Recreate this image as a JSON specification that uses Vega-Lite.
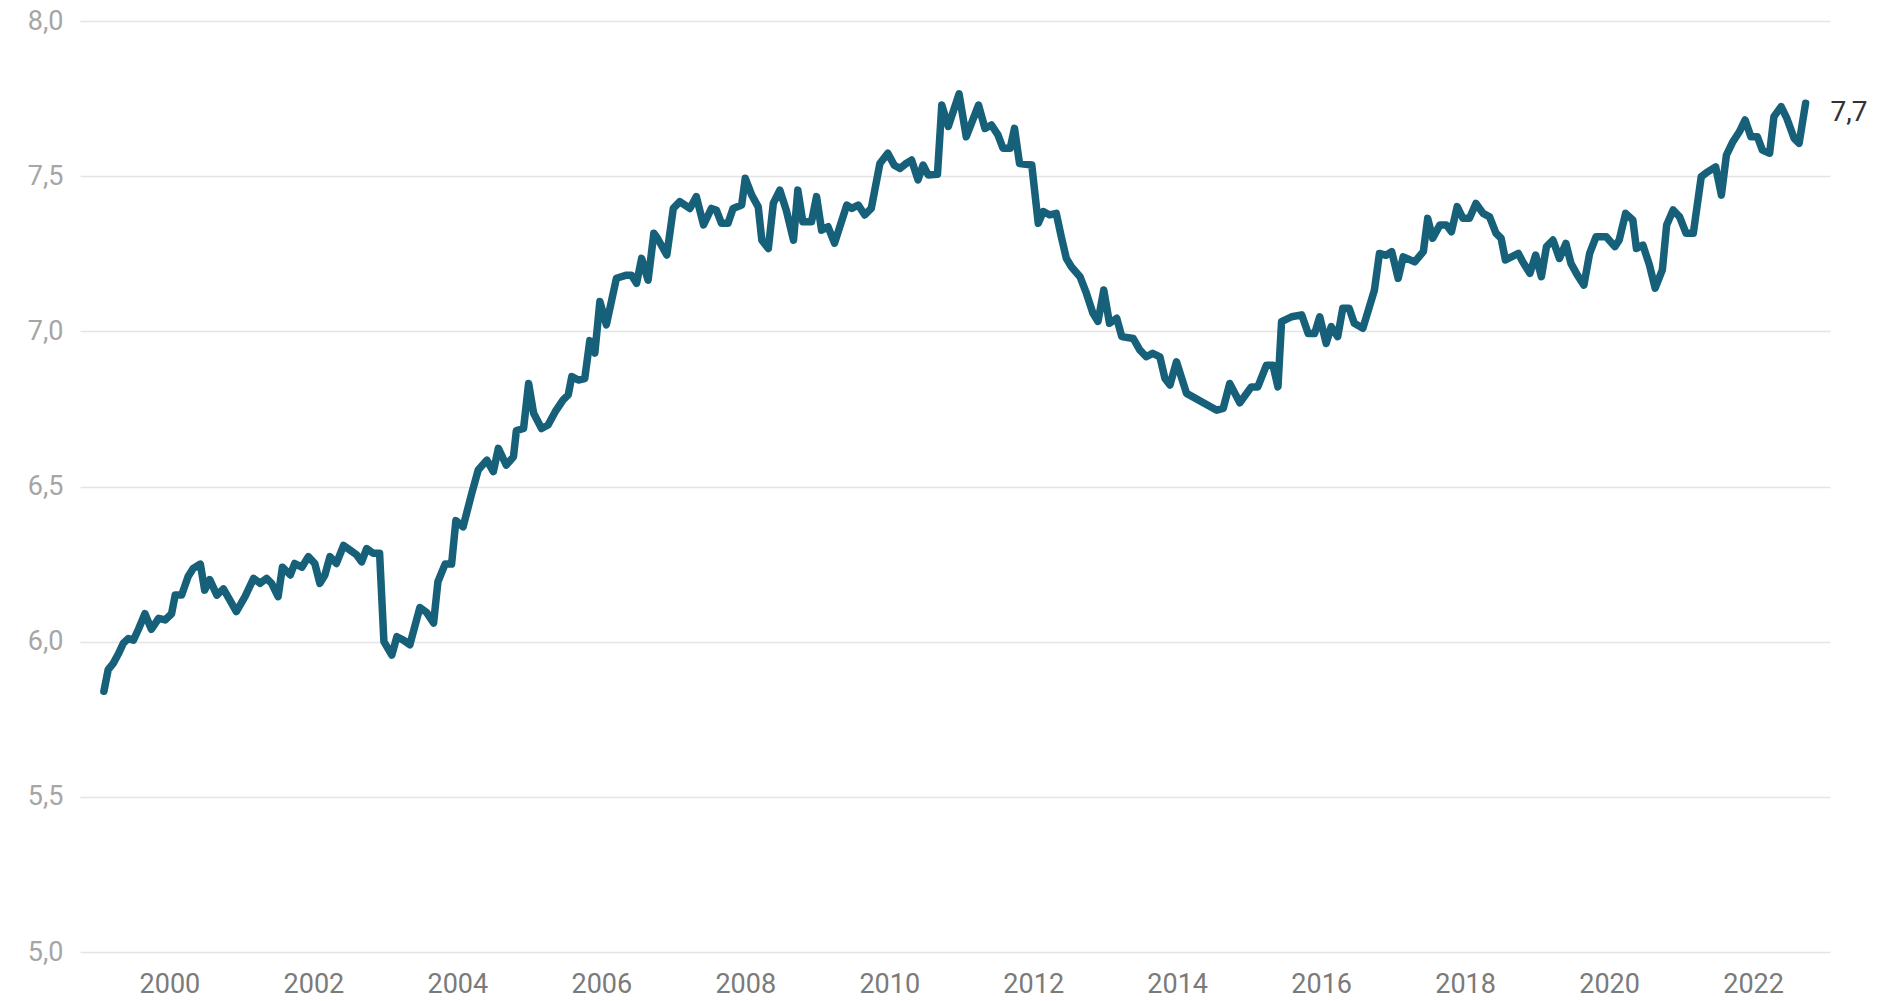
{
  "$schema": "https://vega.github.io/schema/vega-lite/v6.json",
  "width": 1750,
  "height": 931,
  "autosize": "none",
  "padding": {"left": 80, "top": 21, "right": 54, "bottom": 49},
  "background": "white",
  "config": {
    "view": {"stroke": null},
    "font": "Roboto",
    "axis": {"labelFont": "Roboto", "labelFontSize": 27}
  },
  "data": {"values": [
    {"t": 1999.09, "v": 5.84}, {"t": 1999.15, "v": 5.91}, {"t": 1999.22, "v": 5.93}, {"t": 1999.29, "v": 5.96},
    {"t": 1999.36, "v": 5.995}, {"t": 1999.43, "v": 6.01}, {"t": 1999.50, "v": 6.005}, {"t": 1999.57, "v": 6.04},
    {"t": 1999.66, "v": 6.09}, {"t": 1999.75, "v": 6.04}, {"t": 1999.85, "v": 6.075}, {"t": 1999.94, "v": 6.07},
    {"t": 2000.03, "v": 6.09}, {"t": 2000.08, "v": 6.15}, {"t": 2000.17, "v": 6.15}, {"t": 2000.26, "v": 6.21},
    {"t": 2000.33, "v": 6.236}, {"t": 2000.43, "v": 6.25}, {"t": 2000.49, "v": 6.166}, {"t": 2000.56, "v": 6.2},
    {"t": 2000.66, "v": 6.15}, {"t": 2000.75, "v": 6.17}, {"t": 2000.84, "v": 6.134}, {"t": 2000.93, "v": 6.097},
    {"t": 2001.05, "v": 6.145}, {"t": 2001.17, "v": 6.204}, {"t": 2001.26, "v": 6.188}, {"t": 2001.35, "v": 6.204},
    {"t": 2001.42, "v": 6.188}, {"t": 2001.51, "v": 6.145}, {"t": 2001.57, "v": 6.24}, {"t": 2001.68, "v": 6.215},
    {"t": 2001.74, "v": 6.252}, {"t": 2001.84, "v": 6.24}, {"t": 2001.93, "v": 6.274}, {"t": 2002.02, "v": 6.252},
    {"t": 2002.09, "v": 6.188}, {"t": 2002.16, "v": 6.215}, {"t": 2002.23, "v": 6.274}, {"t": 2002.32, "v": 6.252},
    {"t": 2002.42, "v": 6.31}, {"t": 2002.51, "v": 6.295}, {"t": 2002.60, "v": 6.28}, {"t": 2002.67, "v": 6.257},
    {"t": 2002.74, "v": 6.30}, {"t": 2002.83, "v": 6.285}, {"t": 2002.92, "v": 6.285}, {"t": 2002.98, "v": 6.0},
    {"t": 2003.09, "v": 5.957}, {"t": 2003.16, "v": 6.016}, {"t": 2003.25, "v": 6.005}, {"t": 2003.34, "v": 5.99},
    {"t": 2003.48, "v": 6.11}, {"t": 2003.57, "v": 6.095}, {"t": 2003.67, "v": 6.06}, {"t": 2003.73, "v": 6.193},
    {"t": 2003.83, "v": 6.25}, {"t": 2003.92, "v": 6.25}, {"t": 2003.98, "v": 6.39}, {"t": 2004.08, "v": 6.37},
    {"t": 2004.20, "v": 6.478}, {"t": 2004.29, "v": 6.553}, {"t": 2004.41, "v": 6.585}, {"t": 2004.50, "v": 6.548},
    {"t": 2004.57, "v": 6.623}, {"t": 2004.68, "v": 6.569}, {"t": 2004.78, "v": 6.596}, {"t": 2004.82, "v": 6.68},
    {"t": 2004.92, "v": 6.687}, {"t": 2004.99, "v": 6.832}, {"t": 2005.06, "v": 6.736}, {"t": 2005.17, "v": 6.687},
    {"t": 2005.26, "v": 6.698}, {"t": 2005.36, "v": 6.741}, {"t": 2005.47, "v": 6.779}, {"t": 2005.54, "v": 6.795},
    {"t": 2005.59, "v": 6.854}, {"t": 2005.68, "v": 6.843}, {"t": 2005.77, "v": 6.848}, {"t": 2005.84, "v": 6.97},
    {"t": 2005.91, "v": 6.93}, {"t": 2005.98, "v": 7.096}, {"t": 2006.07, "v": 7.021}, {"t": 2006.21, "v": 7.171},
    {"t": 2006.35, "v": 7.181}, {"t": 2006.42, "v": 7.181}, {"t": 2006.49, "v": 7.155}, {"t": 2006.56, "v": 7.235},
    {"t": 2006.65, "v": 7.165}, {"t": 2006.73, "v": 7.316}, {"t": 2006.78, "v": 7.30}, {"t": 2006.91, "v": 7.246},
    {"t": 2007.00, "v": 7.396}, {"t": 2007.09, "v": 7.418}, {"t": 2007.23, "v": 7.396}, {"t": 2007.32, "v": 7.434},
    {"t": 2007.42, "v": 7.343}, {"t": 2007.53, "v": 7.396}, {"t": 2007.60, "v": 7.39}, {"t": 2007.67, "v": 7.348},
    {"t": 2007.76, "v": 7.348}, {"t": 2007.83, "v": 7.396}, {"t": 2007.95, "v": 7.407}, {"t": 2008.00, "v": 7.493},
    {"t": 2008.09, "v": 7.439}, {"t": 2008.18, "v": 7.401}, {"t": 2008.23, "v": 7.294}, {"t": 2008.32, "v": 7.267},
    {"t": 2008.39, "v": 7.413}, {"t": 2008.48, "v": 7.455}, {"t": 2008.57, "v": 7.39}, {"t": 2008.67, "v": 7.294},
    {"t": 2008.73, "v": 7.455}, {"t": 2008.80, "v": 7.353}, {"t": 2008.92, "v": 7.353}, {"t": 2008.99, "v": 7.434},
    {"t": 2009.06, "v": 7.326}, {"t": 2009.15, "v": 7.337}, {"t": 2009.24, "v": 7.284}, {"t": 2009.41, "v": 7.407},
    {"t": 2009.48, "v": 7.396}, {"t": 2009.57, "v": 7.407}, {"t": 2009.66, "v": 7.375}, {"t": 2009.75, "v": 7.396},
    {"t": 2009.87, "v": 7.541}, {"t": 2009.98, "v": 7.574}, {"t": 2010.07, "v": 7.535}, {"t": 2010.15, "v": 7.525},
    {"t": 2010.23, "v": 7.54}, {"t": 2010.31, "v": 7.552}, {"t": 2010.40, "v": 7.488}, {"t": 2010.47, "v": 7.536},
    {"t": 2010.54, "v": 7.504}, {"t": 2010.67, "v": 7.506}, {"t": 2010.73, "v": 7.729}, {"t": 2010.82, "v": 7.66},
    {"t": 2010.97, "v": 7.765}, {"t": 2011.07, "v": 7.627}, {"t": 2011.24, "v": 7.729}, {"t": 2011.33, "v": 7.654},
    {"t": 2011.42, "v": 7.665}, {"t": 2011.51, "v": 7.633}, {"t": 2011.58, "v": 7.59}, {"t": 2011.68, "v": 7.59},
    {"t": 2011.74, "v": 7.654}, {"t": 2011.81, "v": 7.541}, {"t": 2011.98, "v": 7.536}, {"t": 2012.07, "v": 7.348},
    {"t": 2012.14, "v": 7.386}, {"t": 2012.23, "v": 7.375}, {"t": 2012.32, "v": 7.38}, {"t": 2012.39, "v": 7.305},
    {"t": 2012.46, "v": 7.235}, {"t": 2012.53, "v": 7.208}, {"t": 2012.65, "v": 7.176}, {"t": 2012.74, "v": 7.122},
    {"t": 2012.83, "v": 7.058}, {"t": 2012.90, "v": 7.032}, {"t": 2012.98, "v": 7.133}, {"t": 2013.06, "v": 7.026},
    {"t": 2013.16, "v": 7.042}, {"t": 2013.23, "v": 6.983}, {"t": 2013.39, "v": 6.977}, {"t": 2013.48, "v": 6.94},
    {"t": 2013.57, "v": 6.918}, {"t": 2013.66, "v": 6.929}, {"t": 2013.76, "v": 6.918}, {"t": 2013.83, "v": 6.848},
    {"t": 2013.90, "v": 6.827}, {"t": 2013.99, "v": 6.902}, {"t": 2014.13, "v": 6.80}, {"t": 2014.55, "v": 6.746},
    {"t": 2014.64, "v": 6.752}, {"t": 2014.73, "v": 6.832}, {"t": 2014.87, "v": 6.77}, {"t": 2015.03, "v": 6.821},
    {"t": 2015.12, "v": 6.821}, {"t": 2015.24, "v": 6.891}, {"t": 2015.33, "v": 6.891}, {"t": 2015.40, "v": 6.821},
    {"t": 2015.45, "v": 7.031}, {"t": 2015.59, "v": 7.047}, {"t": 2015.73, "v": 7.053}, {"t": 2015.82, "v": 6.993},
    {"t": 2015.91, "v": 6.993}, {"t": 2015.98, "v": 7.047}, {"t": 2016.07, "v": 6.961}, {"t": 2016.14, "v": 7.015},
    {"t": 2016.23, "v": 6.983}, {"t": 2016.30, "v": 7.074}, {"t": 2016.39, "v": 7.074}, {"t": 2016.46, "v": 7.026},
    {"t": 2016.58, "v": 7.01}, {"t": 2016.74, "v": 7.133}, {"t": 2016.81, "v": 7.251}, {"t": 2016.90, "v": 7.245},
    {"t": 2016.98, "v": 7.257}, {"t": 2017.07, "v": 7.171}, {"t": 2017.14, "v": 7.24}, {"t": 2017.30, "v": 7.224},
    {"t": 2017.42, "v": 7.257}, {"t": 2017.48, "v": 7.364}, {"t": 2017.55, "v": 7.30}, {"t": 2017.65, "v": 7.343},
    {"t": 2017.74, "v": 7.343}, {"t": 2017.81, "v": 7.321}, {"t": 2017.89, "v": 7.402}, {"t": 2017.97, "v": 7.364},
    {"t": 2018.06, "v": 7.364}, {"t": 2018.15, "v": 7.412}, {"t": 2018.25, "v": 7.38}, {"t": 2018.34, "v": 7.369},
    {"t": 2018.43, "v": 7.316}, {"t": 2018.50, "v": 7.30}, {"t": 2018.56, "v": 7.23}, {"t": 2018.74, "v": 7.251},
    {"t": 2018.80, "v": 7.224}, {"t": 2018.90, "v": 7.187}, {"t": 2018.98, "v": 7.246}, {"t": 2019.06, "v": 7.176},
    {"t": 2019.13, "v": 7.273}, {"t": 2019.22, "v": 7.294}, {"t": 2019.31, "v": 7.235}, {"t": 2019.40, "v": 7.283},
    {"t": 2019.47, "v": 7.219}, {"t": 2019.56, "v": 7.181}, {"t": 2019.65, "v": 7.149}, {"t": 2019.73, "v": 7.251},
    {"t": 2019.82, "v": 7.305}, {"t": 2019.96, "v": 7.305}, {"t": 2020.08, "v": 7.273}, {"t": 2020.14, "v": 7.294},
    {"t": 2020.23, "v": 7.38}, {"t": 2020.33, "v": 7.359}, {"t": 2020.38, "v": 7.267}, {"t": 2020.47, "v": 7.278},
    {"t": 2020.56, "v": 7.214}, {"t": 2020.64, "v": 7.139}, {"t": 2020.74, "v": 7.198}, {"t": 2020.80, "v": 7.343},
    {"t": 2020.89, "v": 7.391}, {"t": 2020.98, "v": 7.369}, {"t": 2021.07, "v": 7.316}, {"t": 2021.17, "v": 7.316},
    {"t": 2021.28, "v": 7.498}, {"t": 2021.37, "v": 7.514}, {"t": 2021.48, "v": 7.53}, {"t": 2021.56, "v": 7.439},
    {"t": 2021.63, "v": 7.568}, {"t": 2021.72, "v": 7.611}, {"t": 2021.81, "v": 7.643}, {"t": 2021.89, "v": 7.681},
    {"t": 2021.97, "v": 7.627}, {"t": 2022.06, "v": 7.627}, {"t": 2022.13, "v": 7.584}, {"t": 2022.23, "v": 7.574},
    {"t": 2022.29, "v": 7.692}, {"t": 2022.39, "v": 7.724}, {"t": 2022.47, "v": 7.686}, {"t": 2022.57, "v": 7.622},
    {"t": 2022.64, "v": 7.606}, {"t": 2022.73, "v": 7.735, "label": "7,7"}
  ]},
  "encoding": {
    "x": {
      "field": "t", "type": "quantitative",
      "scale": {"domain": [1998.758, 2023.069], "nice": false, "zero": false},
      "axis": {
        "title": null, "grid": false, "domain": false, "ticks": false,
        "values": [2000, 2002, 2004, 2006, 2008, 2010, 2012, 2014, 2016, 2018, 2020, 2022],
        "format": "d", "labelColor": "#7a7a7a", "labelPadding": 19, "labelFontSize": 27
      }
    },
    "y": {
      "field": "v", "type": "quantitative",
      "scale": {"domain": [5, 8], "nice": false, "zero": false},
      "axis": {
        "title": null, "grid": true, "gridColor": "#e4e4e4", "gridWidth": 1.5,
        "domain": false, "ticks": false,
        "values": [5, 5.5, 6, 6.5, 7, 7.5, 8],
        "labelExpr": "replace(format(datum.value, '.1f'), '.', ',')",
        "labelColor": "#a6a6a6", "labelPadding": 17, "labelFontSize": 27
      }
    }
  },
  "layer": [
    {
      "mark": {"type": "line", "color": "#17607a", "strokeWidth": 7.5, "strokeJoin": "round", "strokeCap": "round"}
    },
    {
      "transform": [{"filter": "isValid(datum.label)"}],
      "mark": {"type": "text", "align": "left", "baseline": "middle", "dx": 25, "dy": 10, "fontSize": 28, "color": "#333333", "font": "Roboto"},
      "encoding": {"text": {"field": "label"}}
    }
  ]
}
